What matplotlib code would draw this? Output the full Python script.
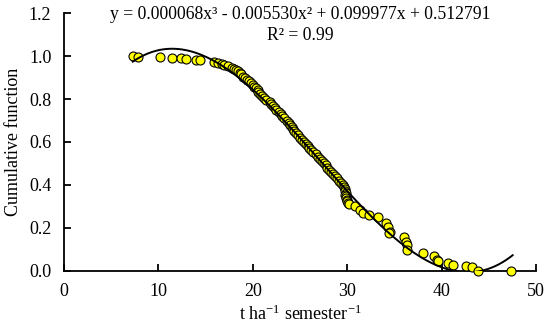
import numpy as np
import matplotlib
matplotlib.use('Agg')
from matplotlib import pyplot as plt

# observed points (t ha-1 semester-1, cumulative function)
x_obs = [7.3, 7.8, 10.2, 11.5, 12.4, 12.9, 14.0, 14.4, 15.9, 16.3, 16.7, 17.0, 17.4,
         17.8, 18.0, 18.2, 18.4, 18.6, 18.8, 19.0, 19.2, 19.4, 19.6, 19.8, 20.0,
         20.1, 20.3, 20.5, 20.6, 20.8, 21.0, 21.2, 21.4, 21.8, 21.9, 22.1, 22.3,
         22.5, 22.8, 23.0, 23.1, 23.3, 23.6, 23.8, 23.9, 24.1, 24.3, 24.4, 24.6,
         24.8, 25.0, 25.2, 25.4, 25.6, 25.8, 26.0, 26.2, 26.4, 26.7, 26.9, 27.1,
         27.3, 27.5, 27.7, 27.9, 28.1, 28.3, 28.5, 28.7, 28.9, 29.1, 29.3, 29.5,
         29.7, 29.8, 29.8, 29.9, 29.8, 29.9, 29.9, 30.0, 30.0, 30.1, 30.2,
         30.8, 31.3, 31.7, 32.3, 33.3, 34.1, 34.3, 34.5, 34.4, 36.0, 36.2, 36.3,
         36.3, 38.0, 39.2, 39.5, 39.6, 40.7, 41.2, 42.6, 43.2, 43.8, 47.3]
y_obs = [1.000, 0.998, 0.995, 0.993, 0.990, 0.987, 0.983, 0.980, 0.975, 0.970, 0.964, 0.959, 0.953,
         0.945, 0.940, 0.934, 0.929, 0.921, 0.915, 0.905, 0.898, 0.891, 0.884, 0.874, 0.866,
         0.858, 0.850, 0.841, 0.833, 0.824, 0.815, 0.806, 0.798, 0.788, 0.775, 0.766, 0.757,
         0.748, 0.740, 0.729, 0.720, 0.711, 0.700, 0.690, 0.680, 0.670, 0.660, 0.650, 0.641,
         0.631, 0.620, 0.610, 0.600, 0.590, 0.580, 0.570, 0.561, 0.552, 0.542, 0.532, 0.522,
         0.512, 0.502, 0.492, 0.481, 0.471, 0.461, 0.450, 0.440, 0.430, 0.420, 0.410, 0.400,
         0.391, 0.380, 0.370, 0.362, 0.355, 0.347, 0.340, 0.332, 0.325, 0.318, 0.312,
         0.300, 0.283, 0.270, 0.260, 0.249, 0.224, 0.205, 0.182, 0.176, 0.156, 0.135, 0.120,
         0.097, 0.084, 0.068, 0.050, 0.045, 0.034, 0.028, 0.021, 0.018, 0.000, 0.000]

# cubic fit coefficients (highest power first)
coefs = [0.000068, -0.005530, 0.099977, 0.512791]
r2 = 0.99
fit_range = (7.3, 47.5)

plt.rcParams['font.family'] = ['Liberation Serif', 'DejaVu Serif']
plt.rcParams['mathtext.fontset'] = 'custom'
plt.rcParams['mathtext.rm'] = 'Liberation Serif'
plt.rcParams['mathtext.it'] = 'Liberation Serif:italic'

fig = plt.figure(figsize=(5.5, 3.31), dpi=100)
ax = fig.add_axes([0.116, 0.182, 0.859, 0.778])

ax.scatter(x_obs, y_obs, s=42, c='#FFFF00', edgecolors='black', linewidths=0.8, zorder=3, clip_on=False)

xf = np.linspace(fit_range[0], fit_range[1], 300)
ax.plot(xf, np.polyval(coefs, xf), color='black', lw=1.4, zorder=4)

ax.set_xlim(0, 50)
ax.set_ylim(0, 1.2)
ax.set_xticks(range(0, 51, 10))
ax.set_yticks(np.arange(0, 1.21, 0.2))
ax.set_yticklabels(['%.1f' % v for v in np.arange(0, 1.21, 0.2)])
for s in ['top', 'right']:
    ax.spines[s].set_visible(False)
for s in ['left', 'bottom']:
    ax.spines[s].set_linewidth(1.3)
ax.tick_params(direction='in', length=5, width=1.3, labelsize=13, pad=9)

ax.set_xlabel(r't ha$^{-1}$ semester$^{-1}$', fontsize=13, labelpad=3)
ax.set_ylabel('Cumulative function', fontsize=13, labelpad=5)

eq = 'y = %.6fx\u00b3 - %.6fx\u00b2 + %.6fx + %.6f' % (coefs[0], -coefs[1], coefs[2], coefs[3])
ax.text(0.5, 0.995, eq, transform=ax.transAxes, ha='center', va='center', fontsize=12.7)
ax.text(0.5, 0.915, 'R\u00b2 = %.2f' % r2, transform=ax.transAxes, ha='center', va='center', fontsize=12.7)

plt.savefig('out.png', dpi=100)
